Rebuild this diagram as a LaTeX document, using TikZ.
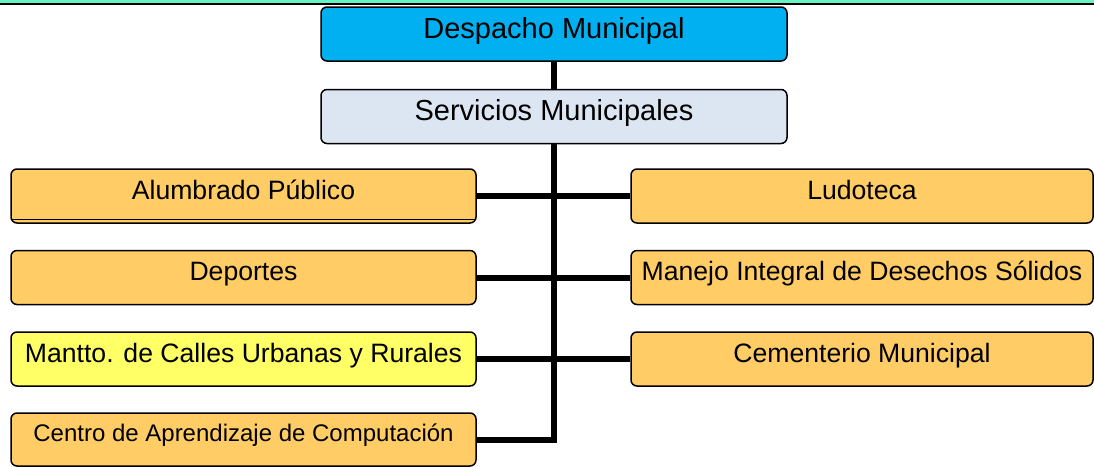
\documentclass[tikz,border=0pt]{standalone}
\usepackage{fontspec}
\setmainfont{Liberation Sans}
\usepackage{tikz}
\usetikzlibrary{positioning}
\definecolor{azulD}{HTML}{00B0F0}
\definecolor{azulS}{HTML}{DCE6F2}
\definecolor{naranja}{HTML}{FFCC66}
\definecolor{amarillo}{HTML}{FFFF66}
\definecolor{verde}{HTML}{66F2C2}

\begin{document}
\begin{tikzpicture}[
        caja/.style={draw=black, line width=1.5pt, rounded corners=6pt, inner sep=0pt,
            minimum width=465pt, minimum height=54pt, text height=30pt, text depth=24pt,
            font=\fontsize{26.6}{30}\selectfont},
        cajader/.style={caja, minimum width=462pt},
        linea/.style={line width=6pt}
    ]

        \useasboundingbox (0,0) rectangle (1094pt,-466pt);

        % franja superior
        \fill[verde] (0,0) rectangle (1094pt,-3pt);
        \draw[line width=1.5pt] (0,-3.8pt) -- (1094pt,-3.8pt);

        \node[caja, fill=azulD, minimum width=466pt, text height=31pt, text depth=23pt,
            font=\fontsize{29}{32}\selectfont] (despacho) at (554pt,-34pt) {Despacho Municipal};

        \node[caja, fill=azulS, minimum width=466pt, text height=31pt, text depth=23pt,
            font=\fontsize{29}{32}\selectfont, below=27pt of despacho] (servicios) {Servicios Municipales};

        \node[caja, fill=naranja] (alumbrado) at (243.5pt,-196pt) {Alumbrado Público};
        \node[caja, fill=naranja] (deportes) at (243.5pt,-277.5pt) {Deportes};
        \node[caja, fill=amarillo] (mantto) at (243.5pt,-359pt) {Mantto. de Calles Urbanas y Rurales};
        \node[caja, fill=naranja, minimum height=53pt, text height=28pt, text depth=25pt,
            font=\fontsize{24}{28}\selectfont] (centro) at (243.5pt,-439.5pt) {Centro de Aprendizaje de Computación};

        \node[cajader, fill=naranja] (ludoteca) at (862pt,-196pt) {Ludoteca};
        \node[cajader, fill=naranja] (manejo) at (862pt,-277.5pt) {Manejo Integral de Desechos Sólidos};
        \node[cajader, fill=naranja] (cementerio) at (862pt,-359pt) {Cementerio Municipal};

        % linea doble bajo Alumbrado
        \draw[line width=1pt] ([yshift=4.5pt,xshift=2pt]alumbrado.south west) -- ([yshift=4.5pt,xshift=-2pt]alumbrado.south east);

        \coordinate (tronco) at (servicios.south |- centro.east);

        \draw[linea] (despacho) -- (servicios);
        \draw[linea, line join=miter] (servicios.south) -- (tronco) -- (centro.east);

        \draw[linea] (alumbrado.east) -- (ludoteca.west);
        \draw[linea] (deportes.east) -- (manejo.west);
        \draw[linea] (mantto.east) -- (cementerio.west);

    \end{tikzpicture}
\end{document}
